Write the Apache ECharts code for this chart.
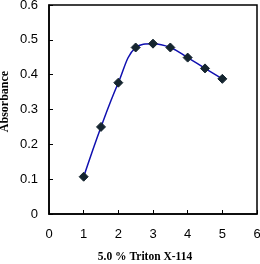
<!DOCTYPE html>
<html><head><meta charset="utf-8">
<script src="https://cdn.jsdelivr.net/npm/echarts@6/dist/echarts.min.js"></script>
<style>html,body{margin:0;padding:0;background:#fff}#c{width:260px;height:264px}</style>
</head><body><div id="c"></div>
<script>
var xValues = [1, 1.5, 2, 2.5, 3, 3.5, 4, 4.5, 5];
var absorbance = [0.107, 0.25, 0.377, 0.478, 0.489, 0.478, 0.449, 0.418, 0.388];
var xAxisName = '5.0 % Triton X-114';
var yAxisName = 'Absorbance';

var chart = echarts.init(document.getElementById('c'), null, {renderer: 'canvas'});
var data = xValues.map(function (x, i) { return [x, absorbance[i]]; });
chart.setOption({
  animation: false,
  backgroundColor: '#fff',
  grid: {left: 49, top: 5, right: 3, bottom: 50, containLabel: false, outerBoundsMode: 'none',
    show: true, borderColor: '#000', borderWidth: 1.5},
  xAxis: {
    type: 'value', min: 0, max: 6, interval: 1,
    name: xAxisName, nameLocation: 'middle', nameGap: 37,
    nameTextStyle: {fontFamily: 'Liberation Serif', fontWeight: 'bold', fontSize: 11.5, color: '#000', padding: [0, 16, 0, 0]},
    axisLine: {lineStyle: {color: '#000', width: 1.5}},
    axisTick: {inside: true, length: 4, lineStyle: {color: '#000'}},
    axisLabel: {fontFamily: 'Liberation Sans', fontSize: 13, color: '#000', margin: 14},
    splitLine: {show: false}
  },
  yAxis: {
    type: 'value', min: 0, max: 0.6, interval: 0.1,
    name: yAxisName, nameLocation: 'middle', nameGap: 38, nameMoveOverlap: false,
    nameTextStyle: {fontFamily: 'Liberation Serif', fontWeight: 'bold', fontSize: 12, color: '#000', padding: [0, 0, 0, 16]},
    axisLine: {show: true, lineStyle: {color: '#000', width: 1.5}},
    axisTick: {show: true, inside: true, length: 4, lineStyle: {color: '#000'}},
    axisLabel: {fontFamily: 'Liberation Sans', fontSize: 13, color: '#000', margin: 11,
      formatter: function (v) { return v === 0 ? '0' : v.toFixed(1); }},
    splitLine: {show: false}
  },
  series: [{
    type: 'line', data: data, smooth: 0.4,
    lineStyle: {color: '#1010b0', width: 1.5},
    symbol: 'diamond', symbolSize: 9,
    itemStyle: {color: '#15252f', borderColor: '#15252f'}
  }]
});
</script></body></html>
